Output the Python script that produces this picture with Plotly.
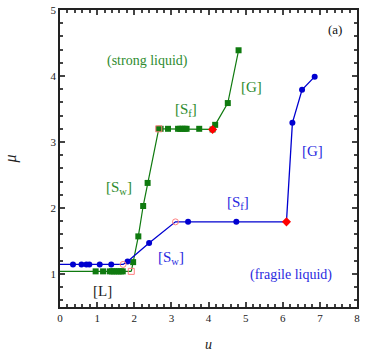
import plotly.graph_objects as go

# strong liquid (green squares)
green_flat_u = [0.0, 0.96, 1.16, 1.34, 1.40, 1.46, 1.52, 1.58, 1.64, 1.69, 1.92]
green_flat_mu = [1.04] * 11
green_u = [1.92, 1.97, 2.11, 2.24, 2.36, 2.66, 2.71, 2.91, 3.18, 3.24, 3.30, 3.36, 3.41, 3.75, 4.11, 4.18, 4.52, 4.81]
green_mu = [1.04, 1.18, 1.57, 2.03, 2.38, 3.20, 3.20, 3.20, 3.20, 3.20, 3.20, 3.20, 3.20, 3.20, 3.19, 3.26, 3.59, 4.39]
green_open_u = [1.92, 2.66]
green_open_mu = [1.04, 3.20]
green_red_u = [4.11]
green_red_mu = [3.19]

# fragile liquid (blue circles)
blue_u = [0.0, 0.35, 0.58, 0.71, 0.79, 1.07, 1.38, 1.70, 1.82, 2.40, 3.11, 3.45, 4.75, 6.10, 6.26, 6.52, 6.86]
blue_mu = [1.145, 1.145, 1.145, 1.145, 1.145, 1.145, 1.145, 1.145, 1.19, 1.47, 1.79, 1.79, 1.79, 1.79, 3.29, 3.79, 3.99]
blue_open_u = [1.70, 3.11]
blue_open_mu = [1.145, 1.79]
blue_red_u = [6.10]
blue_red_mu = [1.79]

GREEN = "#0f7a0f"
GREEN_TXT = "#2e8b2e"
BLUE = "#0000d0"
BLUE_TXT = "#2a2ae0"
FONT = "Liberation Serif, Times New Roman, serif"

fig = go.Figure()

# green line, markers skip x=0
fig.add_trace(go.Scatter(x=green_flat_u, y=green_flat_mu, mode="lines",
                         line=dict(color=GREEN, width=1.2), showlegend=False))
fig.add_trace(go.Scatter(x=green_flat_u[1:-1], y=green_flat_mu[1:-1], mode="markers",
                         marker=dict(symbol="square", size=6, color=GREEN), showlegend=False))
fig.add_trace(go.Scatter(x=green_u, y=green_mu, mode="lines",
                         line=dict(color=GREEN, width=1.2), showlegend=False))
fig.add_trace(go.Scatter(x=green_u[1:], y=green_mu[1:], mode="markers",
                         marker=dict(symbol="square", size=6, color=GREEN), showlegend=False))
fig.add_trace(go.Scatter(x=green_open_u, y=green_open_mu, mode="markers",
                         marker=dict(symbol="square-open", size=6, color="#ff8080"), showlegend=False))
fig.add_trace(go.Scatter(x=green_red_u, y=green_red_mu, mode="markers",
                         marker=dict(symbol="diamond", size=7, color="red"), showlegend=False))

fig.add_trace(go.Scatter(x=blue_u, y=blue_mu, mode="lines",
                         line=dict(color=BLUE, width=1.3), showlegend=False))
bm_u = [u for u in blue_u[1:] if u not in blue_open_u + blue_red_u]
bm_mu = [m for u, m in zip(blue_u[1:], blue_mu[1:]) if u not in blue_open_u + blue_red_u]
fig.add_trace(go.Scatter(x=bm_u, y=bm_mu, mode="markers",
                         marker=dict(symbol="circle", size=6, color=BLUE), showlegend=False))
fig.add_trace(go.Scatter(x=blue_open_u, y=blue_open_mu, mode="markers",
                         marker=dict(symbol="circle-open", size=6, color="#ff8080"), showlegend=False))
fig.add_trace(go.Scatter(x=blue_red_u, y=blue_red_mu, mode="markers",
                         marker=dict(symbol="diamond", size=7, color="red"), showlegend=False))

labels = [
    (2.35, 4.22, "(strong liquid)", GREEN_TXT, 14),
    (3.4, 3.49, "[S<sub>f</sub>]", GREEN_TXT, 15),
    (5.15, 3.84, "[G]", GREEN_TXT, 15),
    (1.58, 2.31, "[S<sub>w</sub>]", GREEN_TXT, 15),
    (1.15, 0.75, "[L]", "#222222", 15),
    (2.98, 1.24, "[S<sub>w</sub>]", BLUE_TXT, 15),
    (4.8, 2.07, "[S<sub>f</sub>]", BLUE_TXT, 15),
    (6.8, 2.86, "[G]", BLUE_TXT, 15),
    (6.23, 0.985, "(fragile liquid)", BLUE_TXT, 14),
    (7.4, 4.7, "(a)", "#111111", 13),
]
for x, y, t, c, s in labels:
    fig.add_annotation(x=x, y=y, text=t, showarrow=False,
                       font=dict(family=FONT, size=s, color=c))

axis_common = dict(showline=True, linecolor="#222222", linewidth=1.5, mirror="allticks",
                   ticks="inside", ticklen=5, tickwidth=1.5, tickcolor="#444444",
                   showgrid=False, zeroline=False, automargin=False,
                   tickfont=dict(family=FONT, size=11, color="#222222"))

fig.update_xaxes(range=[0, 8], dtick=1, tick0=0,
                 minor=dict(dtick=0.2, ticks="inside", ticklen=3, tickcolor="#444444"),
                 title=dict(text="<i>u</i>", font=dict(family=FONT, size=14, color="#222222"), standoff=16),
                 **axis_common)
fig.update_yaxes(range=[0.5, 5], dtick=1, tick0=0,
                 minor=dict(dtick=0.2, tick0=0, ticks="inside", ticklen=3, tickcolor="#444444"),
                 title=dict(text="<i>μ</i>", font=dict(family=FONT, size=16, color="#222222"), standoff=30),
                 **axis_common)

fig.update_layout(width=365, height=356, margin=dict(l=60, r=8, t=10, b=49),
                  font=dict(family=FONT),
                  plot_bgcolor="white", paper_bgcolor="white", showlegend=False)

fig.write_html("out.html", config={"displayModeBar": False},
               post_script="document.body.style.margin='0';")
